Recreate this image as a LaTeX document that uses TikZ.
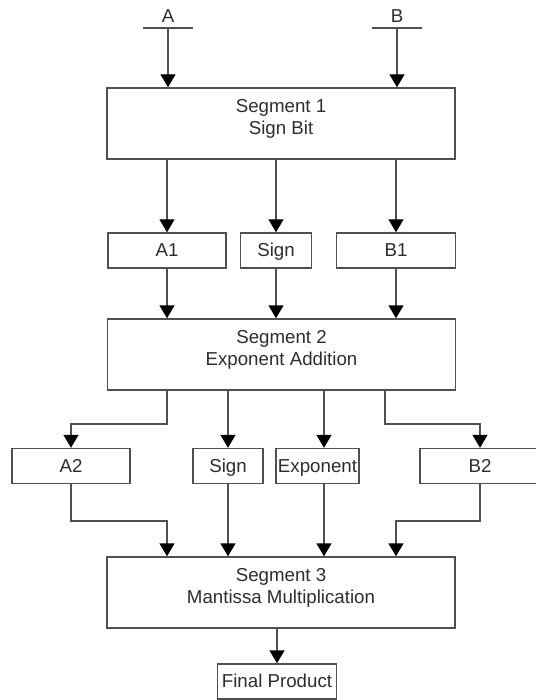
\documentclass[tikz,border=0pt]{standalone}
\usepackage{fontspec}
\setmainfont{Liberation Sans}
\usetikzlibrary{arrows.meta}
\definecolor{linegray}{RGB}{80,80,80}
\definecolor{textgray}{RGB}{45,45,45}
\begin{document}
\begin{tikzpicture}[x=1pt,y=-1pt]
  \tikzset{seg/.style={draw=linegray,line width=1.4pt,minimum width=348pt,minimum height=71pt,text depth=13pt,align=center,inner sep=0pt,text=textgray,font=\fontsize{18.7}{22}\selectfont},
    blk/.style={draw=linegray,line width=1.4pt,minimum height=35pt,text height=13.5pt,text depth=1.5pt,inner sep=0pt,text=textgray,font=\fontsize{18.7}{22}\selectfont},
    arr/.style={draw=linegray,line width=1.4pt,-{Triangle[length=13pt,width=15pt,color=black]}}}
  \useasboundingbox (0,0) rectangle (535,700);
  %inputs
  \node[text=textgray,font=\fontsize{18.7}{22}\selectfont] (LA) at (168,16) {A};
  \node[text=textgray,font=\fontsize{18.7}{22}\selectfont] (LB) at (397,16) {B};
  \node[minimum width=49pt,inner sep=0pt] (INA) at (168,28) {};
  \node[minimum width=49pt,inner sep=0pt] (INB) at (397,28) {};
  \draw[draw=linegray,line width=1.4pt] (INA.west) -- (INA.east) (INB.west) -- (INB.east);
  %segments
  \node[seg] (SEG1) at (281,123.5) {Segment 1\\Sign Bit};
  \node[seg] (SEG2) at (281.5,354.5) {Segment 2\\Exponent Addition};
  \node[seg] (SEG3) at (281,592.5) {Segment 3\\Mantissa Multiplication};
  %registers
  \node[blk,minimum width=118pt] (A1) at (167,250.5) {A1};
  \node[blk,minimum width=71pt] (SIGN1) at (276,250.5) {Sign};
  \node[blk,minimum width=119pt] (B1) at (396,250.5) {B1};
  \node[blk,minimum width=118pt] (A2) at (71,466) {A2};
  \node[blk,minimum width=70pt] (SIGN2) at (228,466) {Sign};
  \node[blk,minimum width=83pt] (EXP) at (317.5,466) {Exponent};
  \node[blk,minimum width=120pt] (B2) at (480,466) {B2};
  \node[blk,minimum width=119pt] (FINAL) at (277,681.5) {Final Product};
  \coordinate (R1) at (0,424);
  \coordinate (R2) at (0,521);
  \coordinate (EXPin) at ([xshift=6.5pt]EXP.north);
  \coordinate (S2b) at ([xshift=103.5pt]SEG2.south);
  %links
  \draw[arr] (INA) -- (INA |- SEG1.north);
  \draw[arr] (INB) -- (INB |- SEG1.north);
  \draw[arr] (SEG1.south -| A1) -- (A1.north);
  \draw[arr] (SEG1.south -| SIGN1) -- (SIGN1.north);
  \draw[arr] (SEG1.south -| B1) -- (B1.north);
  \draw[arr] (A1.south) -- (A1 |- SEG2.north);
  \draw[arr] (SIGN1.south) -- (SIGN1 |- SEG2.north);
  \draw[arr] (B1.south) -- (B1 |- SEG2.north);
  \draw[arr] (SEG2.south -| A1) -- (A1 |- R1) -| (A2.north);
  \draw[arr] (SEG2.south -| SIGN2) -- (SIGN2.north);
  \draw[arr] (EXPin |- SEG2.south) -- (EXPin);
  \draw[arr] (S2b) -- (S2b |- R1) -| (B2.north);
  \draw[arr] (A2.south) -- (A2 |- R2) -| (SEG3.north -| A1);
  \draw[arr] (SIGN2.south) -- (SIGN2 |- SEG3.north);
  \draw[arr] (EXPin |- EXP.south) -- (EXPin |- SEG3.north);
  \draw[arr] (B2.south) -- (B2 |- R2) -| (SEG3.north -| B1);
  \draw[arr] (SEG3.south -| FINAL) -- (FINAL.north);
\end{tikzpicture}
\end{document}
